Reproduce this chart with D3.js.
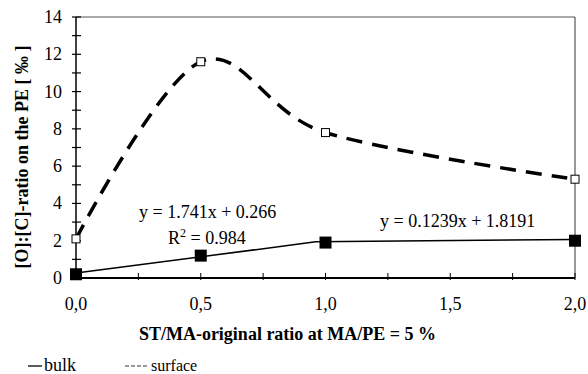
<!DOCTYPE html>
<html>
<head>
<meta charset="utf-8">
<script src="https://cdn.jsdelivr.net/npm/d3@7"></script>
<style>
  body { margin: 0; background: #fff; }
  svg { display: block; }
  text { font-family: "Liberation Serif", "Times New Roman", serif; fill: #000; }
</style>
</head>
<body>
<svg id="chart" width="588" height="374"></svg>
<script>
// data
const ratioX = [0, 0.5, 1.0, 2.0];
const surfaceY = [2.1, 11.6, 7.8, 5.3];
const bulkY = [0.2, 1.2, 1.9, 2.0];
const fitLow = { slope: 1.741, intercept: 0.266 };
const fitHigh = { slope: 0.1239, intercept: 1.8191 };
const xTickLabels = ["0,0", "0,5", "1,0", "1,5", "2,0"];
const xTickValues = [0, 0.5, 1.0, 1.5, 2.0];
const yTickValues = [0, 2, 4, 6, 8, 10, 12, 14];

const margin = { top: 17, left: 76, right: 13, bottom: 96 };
const width = 588, height = 374;

const svg = d3.select("#chart");
const x = d3.scaleLinear().domain([0, 2]).range([margin.left, width - margin.right]);
const y = d3.scaleLinear().domain([0, 14]).range([height - margin.bottom, margin.top]);

// frame: top and right borders
svg.append("line")
  .attr("x1", x(0)).attr("x2", x(2)).attr("y1", y(14)).attr("y2", y(14))
  .attr("stroke", "#555").attr("stroke-width", 1);
svg.append("line")
  .attr("x1", x(2)).attr("x2", x(2)).attr("y1", y(14)).attr("y2", y(0))
  .attr("stroke", "#333").attr("stroke-width", 1);

// y axis, minor ticks crossing the line
const yAxis = svg.append("g");
yAxis.append("line")
  .attr("x1", x(0)).attr("x2", x(0)).attr("y1", y(14)).attr("y2", y(0))
  .attr("stroke", "#000").attr("stroke-width", 1.5);
yAxis.selectAll(".yt")
  .data(d3.range(0, 15, 1))
  .join("line")
  .attr("x1", x(0) - 4).attr("x2", x(0) + 5)
  .attr("y1", d => y(d)).attr("y2", d => y(d))
  .attr("stroke", "#000").attr("stroke-width", 1.2);
yAxis.selectAll(".yl")
  .data(yTickValues)
  .join("text")
  .attr("x", x(0) - 14)
  .attr("y", d => y(d) + 6)
  .attr("text-anchor", "end")
  .attr("font-size", 18)
  .text(d => d);

// x axis
const xAxis = svg.append("g");
xAxis.append("line")
  .attr("x1", x(0)).attr("x2", x(2)).attr("y1", y(0)).attr("y2", y(0))
  .attr("stroke", "#000").attr("stroke-width", 2);
xAxis.selectAll(".xt")
  .data(d3.range(0, 2.01, 0.25))
  .join("line")
  .attr("x1", d => x(d)).attr("x2", d => x(d))
  .attr("y1", y(0) - 5).attr("y2", y(0) + 2)
  .attr("stroke", "#000").attr("stroke-width", 1);
xAxis.selectAll(".xl")
  .data(xTickValues)
  .join("text")
  .attr("x", d => x(d))
  .attr("y", y(0) + 32)
  .attr("text-anchor", "middle")
  .attr("font-size", 18)
  .text((d, i) => xTickLabels[i]);

// axis titles
svg.append("text")
  .attr("x", x(1) - 38)
  .attr("y", 340)
  .attr("text-anchor", "middle")
  .attr("font-size", 18)
  .attr("font-weight", "bold")
  .text("ST/MA-original ratio at MA/PE = 5 %");
svg.append("text")
  .attr("transform", "translate(28, 157) rotate(-90)")
  .attr("text-anchor", "middle")
  .attr("font-size", 18)
  .attr("font-weight", "bold")
  .text("[O]:[C]-ratio on the PE [ ‰ ]");

// surface: smoothed dashed curve
const surface = ratioX.map((d, i) => [d, surfaceY[i]]);
svg.append("path")
  .datum(surface)
  .attr("fill", "none")
  .attr("stroke", "#000")
  .attr("stroke-width", 3.5)
  .attr("stroke-dasharray", "16,10")
  .attr("d", d3.line().x(d => x(d[0])).y(d => y(d[1])).curve(d3.curveCardinal));

// bulk: two linear fits meeting where they cross
const xMeet = (fitHigh.intercept - fitLow.intercept) / (fitLow.slope - fitHigh.slope);
const fitPts = [0, xMeet, 2].map((d, i) =>
  i < 2 ? [d, fitLow.slope * d + fitLow.intercept] : [d, fitHigh.slope * d + fitHigh.intercept]);
svg.append("path")
  .datum(fitPts)
  .attr("fill", "none")
  .attr("stroke", "#000")
  .attr("stroke-width", 1.5)
  .attr("d", d3.line().x(d => x(d[0])).y(d => y(d[1])));

// markers
svg.selectAll(".bulk")
  .data(ratioX.map((d, i) => [d, bulkY[i]]))
  .join("rect")
  .attr("x", d => x(d[0]) - 6).attr("y", d => y(d[1]) - 6)
  .attr("width", 12).attr("height", 12)
  .attr("fill", "#000");
svg.selectAll(".surf")
  .data(surface)
  .join("rect")
  .attr("x", d => x(d[0]) - 4).attr("y", d => y(d[1]) - 4)
  .attr("width", 8).attr("height", 8)
  .attr("fill", "#fff").attr("stroke", "#000").attr("stroke-width", 1);

// fit equations
svg.append("text").attr("x", 139).attr("y", 218).attr("font-size", 18)
  .text("y = 1.741x + 0.266");
const r2 = svg.append("text").attr("x", 168).attr("y", 244).attr("font-size", 18);
r2.append("tspan").text("R");
r2.append("tspan").attr("font-size", 12).attr("dy", -7).text("2");
r2.append("tspan").attr("dy", 7).text(" = 0.984");
svg.append("text").attr("x", 380).attr("y", 227).attr("font-size", 18)
  .text("y = 0.1239x + 1.8191");

// legend
svg.append("line").attr("x1", 28).attr("x2", 42).attr("y1", 366).attr("y2", 366)
  .attr("stroke", "#000").attr("stroke-width", 1.3);
svg.append("text").attr("x", 44).attr("y", 371).attr("font-size", 18).text("bulk");
svg.append("line").attr("x1", 125).attr("x2", 147).attr("y1", 366).attr("y2", 366)
  .attr("stroke", "#000").attr("stroke-width", 0.8).attr("stroke-dasharray", "4,2");
svg.append("text").attr("x", 151).attr("y", 371).attr("font-size", 16).text("surface");
</script>
</body>
</html>
